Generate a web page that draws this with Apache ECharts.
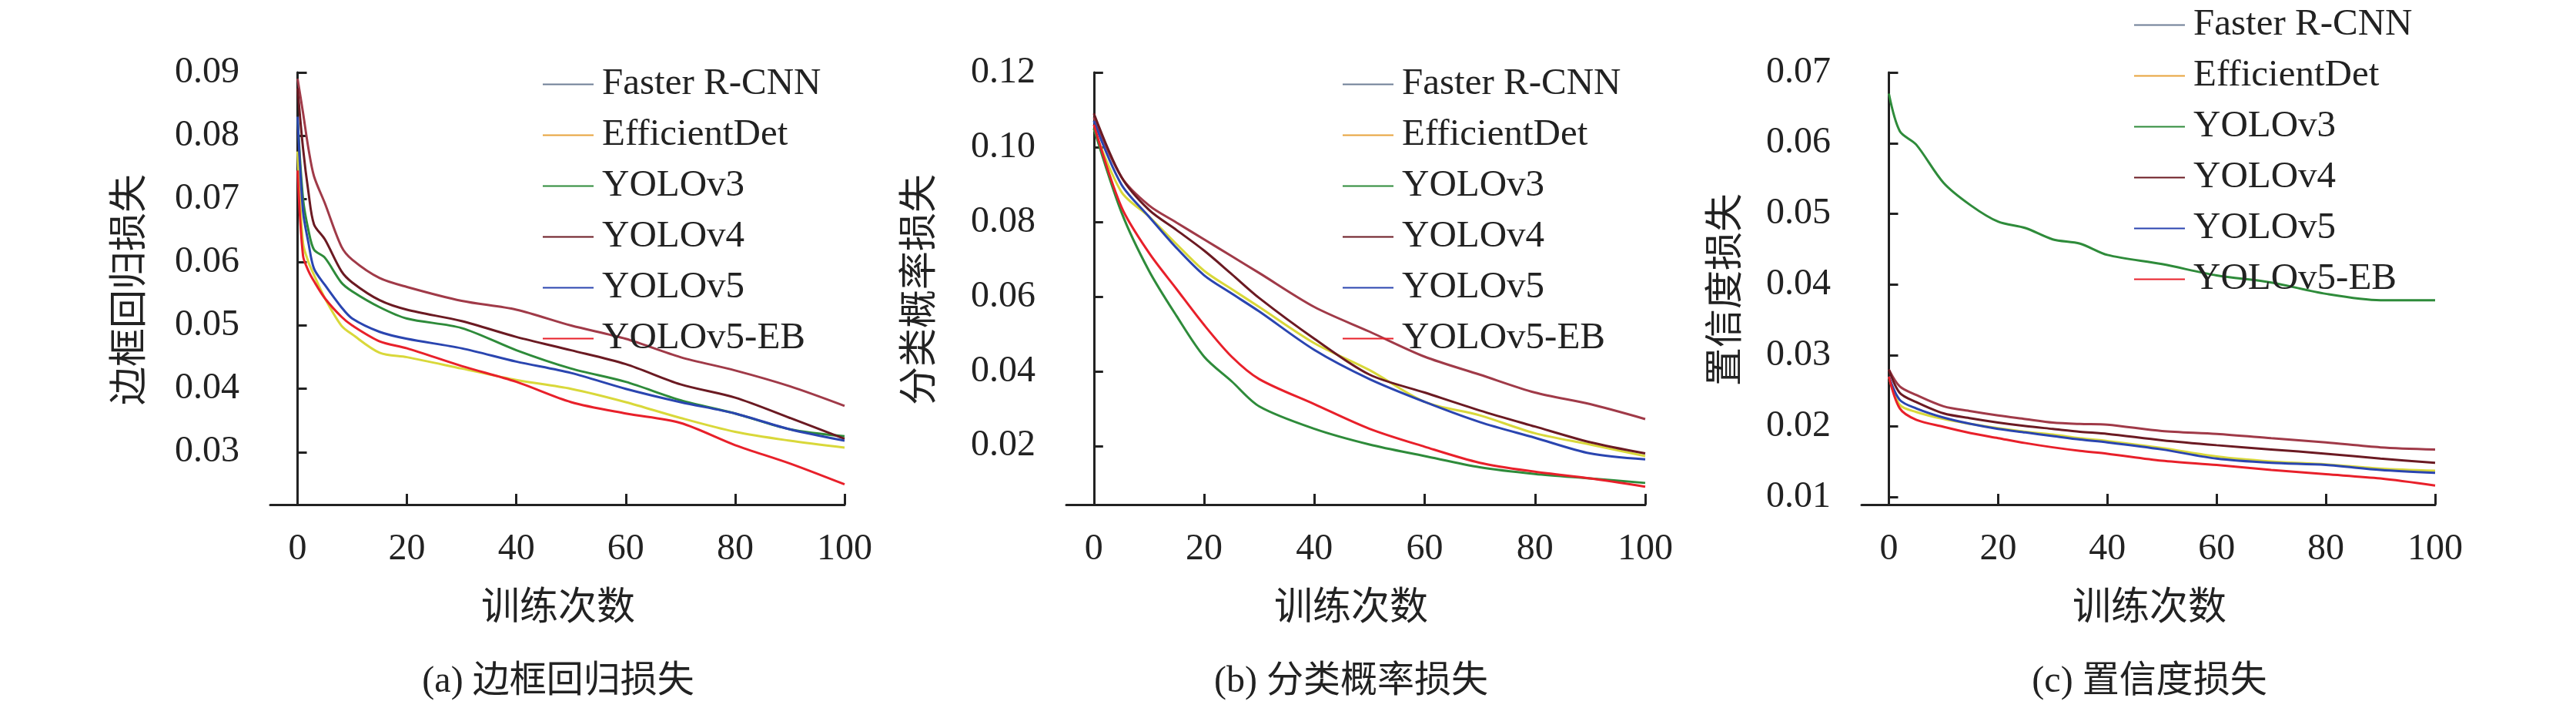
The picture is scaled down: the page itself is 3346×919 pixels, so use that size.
<!DOCTYPE html>
<html><head><meta charset="utf-8">
<script src="https://cdn.jsdelivr.net/npm/echarts@6/dist/echarts.min.js"></script>
<style>html,body{margin:0;padding:0;background:#fff}#c{width:3346px;height:919px}</style>
</head><body><div id="c"></div>
<script>
const names = ['Faster R-CNN','EfficientDet','YOLOv3','YOLOv4','YOLOv5','YOLOv5-EB'];
const lineColors = ['#a03a48','#d9d83a','#2e8b3a','#6b1a22','#2a45b0','#e8202a'];
const legendColors = ['#6f7f96','#e8a33c','#2e8b3a','#6b1a22','#2a45b0','#e8202a'];

const xA = [0,1,2,3,5,8,10,15,20,30,40,50,60,70,80,90,100];
const aFaster = [0.089,0.0836,0.0779,0.0736,0.0693,0.0625,0.0604,0.0575,0.0561,0.0539,0.0525,0.0500,0.0479,0.0450,0.0429,0.0404,0.0373];
const aEff    = [0.0775,0.063,0.060,0.058,0.0543,0.0500,0.0486,0.0457,0.0450,0.0432,0.0414,0.0400,0.0379,0.0354,0.0332,0.0318,0.0307];
const aV3     = [0.0829,0.070,0.065,0.062,0.0607,0.0568,0.0554,0.0529,0.0511,0.0496,0.0461,0.0432,0.0411,0.0382,0.0361,0.0336,0.0325];
const aV4     = [0.0875,0.078,0.071,0.066,0.0636,0.0586,0.0568,0.0540,0.0525,0.0507,0.0482,0.0461,0.0439,0.0407,0.0386,0.0354,0.0321];
const aV5     = [0.083,0.068,0.063,0.059,0.0564,0.0529,0.0511,0.0490,0.0479,0.0464,0.0443,0.0425,0.0400,0.0379,0.0361,0.0336,0.0318];
const aEB     = [0.0745,0.061,0.0586,0.057,0.0543,0.0514,0.0500,0.0475,0.0464,0.0436,0.0411,0.0379,0.0361,0.0346,0.0311,0.0282,0.0249];

const xB = [0,5,10,15,20,25,30,40,50,60,70,80,90,100];
const bFaster = [0.108,0.092,0.0844,0.0798,0.0753,0.0708,0.0663,0.0572,0.0506,0.0439,0.0391,0.0343,0.0312,0.0272];
const bEff    = [0.105,0.088,0.0814,0.0740,0.0669,0.0620,0.0572,0.0475,0.0403,0.0318,0.0282,0.0234,0.0204,0.0173];
const bV3     = [0.105,0.0826,0.0669,0.0548,0.0439,0.0373,0.0306,0.0246,0.0204,0.0173,0.0143,0.0125,0.0113,0.0101];
const bV4     = [0.109,0.092,0.0832,0.0778,0.0723,0.0660,0.0596,0.0487,0.0391,0.0343,0.0295,0.0252,0.0210,0.0180];
const bV5     = [0.107,0.090,0.0814,0.0730,0.0657,0.0608,0.0560,0.0457,0.0379,0.0318,0.0264,0.0222,0.0180,0.0164];
const bEB     = [0.106,0.0840,0.0717,0.0620,0.0524,0.0439,0.0379,0.0312,0.0246,0.0198,0.0155,0.0131,0.0113,0.0091];

const xC = [0,2,5,10,15,20,25,30,35,40,50,60,70,80,90,100];
const cFaster = [0.0280,0.0256,0.0244,0.0228,0.0221,0.0215,0.0210,0.0205,0.0203,0.0202,0.0193,0.0189,0.0183,0.0177,0.0170,0.0167];
const cEff    = [0.0270,0.0230,0.0220,0.0210,0.0203,0.0197,0.0192,0.0188,0.0183,0.0179,0.0169,0.0157,0.0150,0.0146,0.0140,0.0137];
const cV3     = [0.0670,0.0617,0.0598,0.0544,0.0512,0.0489,0.0480,0.0464,0.0458,0.0442,0.0429,0.0413,0.0403,0.0387,0.0378,0.0378];
const cV4     = [0.0280,0.0247,0.0234,0.0218,0.0211,0.0205,0.0200,0.0196,0.0192,0.0189,0.0180,0.0173,0.0167,0.0161,0.0154,0.0148];
const cV5     = [0.0270,0.0237,0.0225,0.0212,0.0203,0.0196,0.0191,0.0186,0.0181,0.0177,0.0167,0.0154,0.0148,0.0145,0.0138,0.0134];
const cEB     = [0.0270,0.0225,0.0209,0.0199,0.0190,0.0183,0.0176,0.0170,0.0165,0.0161,0.0151,0.0145,0.0138,0.0132,0.0126,0.0116];

const xTicks = [0,20,40,60,80,100];
const yTicksA = [0.03,0.04,0.05,0.06,0.07,0.08,0.09];
const yTicksB = [0.02,0.04,0.06,0.08,0.10,0.12];
const yTicksC = [0.01,0.02,0.03,0.04,0.05,0.06,0.07];

const panels = [
  {x:xA, d:[aFaster,aEff,aV3,aV4,aV5,aEB], yT:yTicksA, ymin:0.0217, ymax:0.09, left:351, width:746, legL:700, legT:80},
  {x:xB, d:[bFaster,bEff,bV3,bV4,bV5,bEB], yT:yTicksB, ymin:0.0043, ymax:0.12, left:1385, width:752, legL:1739, legT:80},
  {x:xC, d:[cFaster,cEff,cV3,cV4,cV5,cEB], yT:yTicksC, ymin:0.0089, ymax:0.07, left:2418, width:745, legL:2767, legT:3}
];
const serif = 'Liberation Serif';
const cjk = '"Liberation Serif","Noto Sans CJK SC"';
const axisLine = {show:true, lineStyle:{color:'#222', width:3}};
const option = {backgroundColor:'#fff', animation:false, grid:[], xAxis:[], yAxis:[], series:[], legend:[], graphic:[]};
panels.forEach((p,i)=>{
  option.grid.push({left:p.left, top:94, width:p.width, height:561});
  option.xAxis.push({gridIndex:i, type:'value', min:-5, max:100, axisLine,
    splitLine:{show:false},
    axisTick:{show:true, inside:true, length:14, lineStyle:{color:'#222',width:3}, customValues:xTicks},
    axisLabel:{customValues:xTicks, margin:34, fontFamily:serif, fontSize:48, color:'#222'}});
  option.yAxis.push({gridIndex:i, type:'value', min:p.ymin, max:p.ymax, axisLine,
    splitLine:{show:false},
    axisTick:{show:true, inside:true, length:12, lineStyle:{color:'#222',width:3}, customValues:p.yT},
    axisLabel:{customValues:p.yT, margin:40, fontFamily:serif, fontSize:48, color:'#222', formatter:v=>v.toFixed(2)}});
  names.forEach((n,k)=>{
    option.series.push({name:n, type:'line', xAxisIndex:i, yAxisIndex:i, showSymbol:false, smooth:0.3,
      lineStyle:{width:3, color:lineColors[k]}, itemStyle:{color:lineColors[k]},
      data:p.x.map((xv,j)=>[xv,p.d[k][j]])});
  });
  option.legend.push({orient:'vertical', left:p.legL, top:p.legT, itemWidth:66, itemHeight:20, itemGap:17,
    icon:'path://M0,9L66,9L66,11L0,11Z',
    textStyle:{fontFamily:serif, fontSize:49, lineHeight:40, color:'#222', padding:[0,0,0,6]},
    data:names.map((n,k)=>({name:n, itemStyle:{color:legendColors[k]}}))});
});
const yNames = [['边框回归损失',171],['分类概率损失',1197],['置信度损失',2244]];
const xNames = [725,1755,2792];
const caps = ['(a) 边框回归损失','(b) 分类概率损失','(c) 置信度损失'];
yNames.forEach(([t,x],i)=>{
  option.graphic.push({type:'text', x:x, y:376, rotation:Math.PI/2, style:{text:t, font:'50px '+cjk, fill:'#222', align:'center', verticalAlign:'middle'}});
  option.graphic.push({type:'text', x:xNames[i], y:791, style:{text:'训练次数', font:'50px '+cjk, fill:'#222', align:'center', verticalAlign:'middle'}});
  option.graphic.push({type:'text', x:xNames[i], y:885, style:{text:caps[i], font:'48px '+cjk, fill:'#222', align:'center', verticalAlign:'middle'}});
});
echarts.init(document.getElementById('c')).setOption(option);
</script></body></html>
